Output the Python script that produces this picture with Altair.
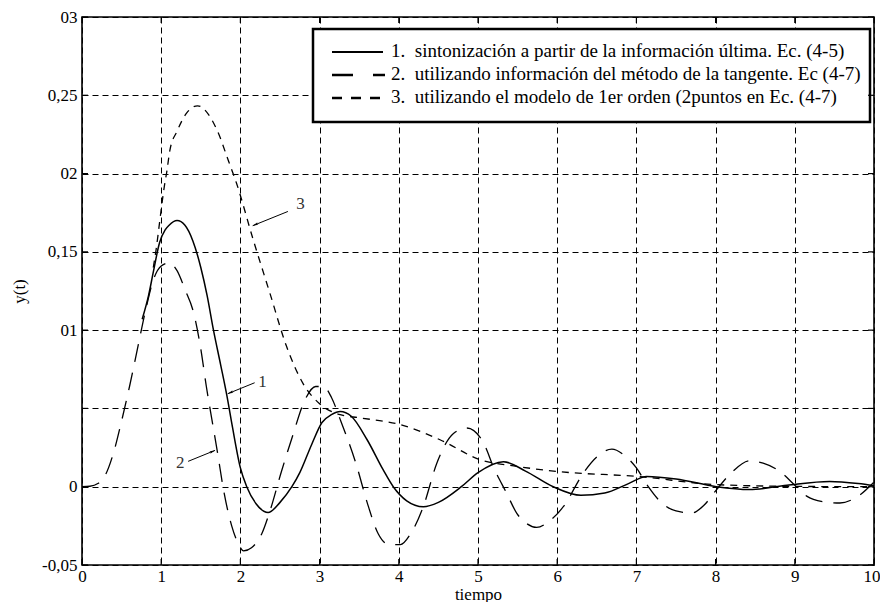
import altair as alt
import pandas as pd

# ---------------- data ----------------
t1 = [0.76, 0.84, 0.9, 0.98, 1.05, 1.1, 1.2, 1.3, 1.4, 1.5, 1.58, 1.66, 1.75, 1.83, 1.9, 2.0,
      2.08, 2.2, 2.35, 2.5, 2.65, 2.75, 2.9, 3.03, 3.15, 3.26, 3.4, 3.6, 3.8, 3.93, 4.1, 4.31,
      4.5, 4.79, 5.0, 5.32, 5.6, 5.95, 6.3, 6.6, 6.9, 7.13, 7.5, 8.01, 8.43, 8.9, 9.44, 9.8, 10.0]
y1 = [0.107, 0.122, 0.137, 0.156, 0.164, 0.167, 0.170, 0.167, 0.157, 0.140, 0.122, 0.100, 0.078,
      0.058, 0.038, 0.012, 0.0, -0.011, -0.0165, -0.010, 0.0, 0.009, 0.027, 0.041, 0.046, 0.048,
      0.045, 0.030, 0.011, 0.0, -0.009, -0.0128, -0.010, 0.0, 0.009, 0.016, 0.010, 0.0, -0.0055,
      -0.004, 0.002, 0.0066, 0.005, 0.0, -0.0018, 0.001, 0.0034, 0.002, 0.0006]

t2 = [0.0, 0.1, 0.2, 0.3, 0.4, 0.5, 0.6, 0.7, 0.8, 0.9, 1.0, 1.1, 1.2, 1.3, 1.41, 1.5, 1.57,
      1.65, 1.72, 1.78, 1.89, 1.97, 2.04, 2.14, 2.27, 2.37, 2.52, 2.65, 2.82, 2.95, 3.05, 3.15,
      3.26, 3.47, 3.6, 3.74, 3.88, 4.02, 4.15, 4.31, 4.48, 4.69, 4.86, 5.07, 5.2, 5.36, 5.49,
      5.6, 5.74, 5.9, 6.08, 6.33, 6.5, 6.69, 6.85, 7.0, 7.15, 7.3, 7.5, 7.7, 7.85, 8.01, 8.2,
      8.43, 8.6, 8.81, 9.0, 9.15, 9.35, 9.57, 9.8, 10.0]
y2 = [0.0, 0.0003, 0.002, 0.008, 0.022, 0.042, 0.064, 0.088, 0.112, 0.132, 0.141, 0.143, 0.138,
      0.126, 0.111, 0.088, 0.064, 0.040, 0.019, 0.0, -0.025, -0.036, -0.041, -0.039, -0.030,
      -0.016, 0.010, 0.031, 0.056, 0.064, 0.064, 0.057, 0.043, 0.013, -0.010, -0.030, -0.037,
      -0.037, -0.030, -0.0126, 0.015, 0.034, 0.0375, 0.028, 0.012, -0.004, -0.017, -0.023,
      -0.026, -0.022, -0.0126, 0.0087, 0.019, 0.024, 0.020, 0.012, 0.0, -0.0094, -0.0155,
      -0.0168, -0.012, -0.002, 0.009, 0.0166, 0.015, 0.0098, 0.001, -0.006, -0.0095, -0.0104,
      -0.006, 0.003]

t3 = [0.9, 0.94, 0.98, 1.01, 1.04, 1.07, 1.11, 1.2, 1.32, 1.46, 1.62, 1.72, 1.85, 1.95, 2.16,
      2.37, 2.58, 2.79, 3.0, 3.26, 3.51, 4.02, 4.52, 5.03, 5.49, 5.99, 7.05, 8.01, 9.02, 10.0]
y3 = [0.140, 0.153, 0.169, 0.181, 0.192, 0.201, 0.215, 0.227, 0.2386, 0.2433, 0.236, 0.226,
      0.208, 0.194, 0.158, 0.124, 0.090, 0.066, 0.053, 0.046, 0.044, 0.0396, 0.030, 0.0172,
      0.013, 0.0098, 0.0064, 0.0013, 0.0002, 0.0]

legend_labels = [
    "1.\u00a0\u00a0sintonización a partir de la información última. Ec. (4-5)",
    "2.\u00a0\u00a0utilizando información del método de la tangente. Ec (4-7)",
    "3.\u00a0\u00a0utilizando el modelo de 1er orden (2puntos en Ec. (4-7)",
]

# annotation arrows: label, text anchor, arrow tail, arrow head (data units)
ann_labels = ["3", "1", "2"]
ann_text_t = [2.76, 2.28, 1.24]
ann_text_v = [0.1805, 0.0668, 0.0150]
ann_tail_t = [2.60, 2.18, 1.34]
ann_tail_v = [0.1758, 0.0664, 0.0162]
ann_head_t = [2.155, 1.84, 1.68]
ann_head_v = [0.1667, 0.0594, 0.0232]
ann_angle = [248, 248, 68]

x_ticks = [0, 1, 2, 3, 4, 5, 6, 7, 8, 9, 10]
y_ticks = [-0.05, 0.0, 0.05, 0.1, 0.15, 0.2, 0.25, 0.3]
y_tick_labels = ["-0,05", "0", "", "01", "0,15", "02", "0,25", "03"]

# ---------------- chart ----------------
FONT = "Liberation Serif"
W, H = 792, 548

y_expr = " : ".join(
    f"abs(datum.value - ({v})) < 1e-6 ? '{lab}'" for v, lab in zip(y_ticks, y_tick_labels)
) + " : ''"

X = alt.X("t:Q", scale=alt.Scale(domain=[0, 10], nice=False, zero=False),
          axis=alt.Axis(values=x_ticks, grid=True, gridDash=[6, 4], gridColor="black",
                        gridWidth=1, gridOpacity=1, tickSize=0, domain=False,
                        labelFont=FONT, labelFontSize=17, labelColor="black",
                        labelPadding=3, labelFlush=False, format="d",
                        labelAlign={"condition": {"test": "datum.value == 10", "value": "right"},
                                    "value": "center"},
                        labelOffset={"condition": {"test": "datum.value == 10", "value": 6},
                                     "value": 0},
                        title="tiempo", titleFont=FONT, titleFontSize=17,
                        titleFontWeight="normal", titleColor="black",
                        titleY=29, titleBaseline="middle"))
Y = alt.Y("v:Q", scale=alt.Scale(domain=[-0.05, 0.3], nice=False, zero=False),
          axis=alt.Axis(values=y_ticks, grid=True, gridDash=[6, 4], gridColor="black",
                        gridWidth=1, gridOpacity=1, tickSize=0, domain=False,
                        labelFont=FONT, labelFontSize=17, labelColor="black",
                        labelPadding=5, labelExpr=y_expr, labelFlush=False,
                        title="y(t)", titleFont=FONT, titleFontSize=17,
                        titleFontWeight="normal", titleColor="black",
                        titleX=-63, titleY=274, titleAngle=-90,
                        titleAlign="center", titleBaseline="middle"))

d1 = pd.DataFrame({"t": t1, "v": y1})
d2 = pd.DataFrame({"t": t2, "v": y2})
d3 = pd.DataFrame({"t": t3, "v": y3})

c1 = alt.Chart(d1).mark_line(color="black", strokeWidth=1.5, interpolate="monotone").encode(x=X, y=Y)
c2 = alt.Chart(d2).mark_line(color="black", strokeWidth=1.3, strokeDash=[18, 11],
                             interpolate="monotone").encode(x=X, y=Y)
c3 = alt.Chart(d3).mark_line(color="black", strokeWidth=1.3, strokeDash=[7, 6],
                             interpolate="monotone").encode(x=X, y=Y)

one = alt.Data(values=[{"a": 1}])

# legend box
lg_box = alt.Chart(one).mark_rect(fill="white", stroke="black", strokeWidth=2.5).encode(
    x=alt.value(231), x2=alt.value(788), y=alt.value(12), y2=alt.value(105))
lg_l1 = alt.Chart(one).mark_rule(color="black", strokeWidth=2).encode(
    x=alt.value(250), x2=alt.value(301), y=alt.value(35))
lg_l2 = alt.Chart(one).mark_rule(color="black", strokeWidth=2.5, strokeDash=[21, 20]).encode(
    x=alt.value(250), x2=alt.value(303), y=alt.value(58))
lg_l3 = alt.Chart(one).mark_rule(color="black", strokeWidth=2.5, strokeDash=[10, 9]).encode(
    x=alt.value(250), x2=alt.value(302), y=alt.value(81))
lg_texts = []
for i, lab in enumerate(legend_labels):
    lg_texts.append(alt.Chart(one).mark_text(
        text=lab, font=FONT, fontSize=19, align="left", baseline="middle", color="black"
    ).encode(x=alt.value(309), y=alt.value([34, 57, 80][i])))

# annotations
ann = pd.DataFrame({"label": ann_labels, "tt": ann_text_t, "tv": ann_text_v,
                    "t": ann_tail_t, "v": ann_tail_v, "t2": ann_head_t, "v2": ann_head_v,
                    "ang": ann_angle})
ann_rule = alt.Chart(ann).mark_rule(color="black", strokeWidth=1).encode(
    x=X, y=Y, x2="t2:Q", y2="v2:Q")
ann_head = alt.Chart(ann).mark_point(
    shape="M0,0L0.45,1.9L0,1.45L-0.45,1.9Z", filled=True, color="black", size=36, opacity=1
).encode(x=alt.X("t2:Q"), y=alt.Y("v2:Q"), angle=alt.Angle("ang:Q", scale=None))
ann_text = alt.Chart(ann).mark_text(font=FONT, fontSize=17, color="#333333",
                                     align="center", baseline="middle").encode(
    x=alt.X("tt:Q"), y=alt.Y("tv:Q"), text="label:N")

# inward ticks on all four sides
xt = pd.DataFrame({"t": x_ticks})
yt = pd.DataFrame({"v": y_ticks})
tk_b = alt.Chart(xt).mark_rule(color="black", strokeWidth=1.2).encode(
    x=X, y=alt.value(H), y2=alt.value(H - 6))
tk_t = alt.Chart(xt).mark_rule(color="black", strokeWidth=1.2).encode(
    x=X, y=alt.value(0), y2=alt.value(6))
tk_l = alt.Chart(yt).mark_rule(color="black", strokeWidth=1.2).encode(
    y=Y, x=alt.value(0), x2=alt.value(6))
tk_r = alt.Chart(yt).mark_rule(color="black", strokeWidth=1.2).encode(
    y=Y, x=alt.value(W), x2=alt.value(W - 6))

chart = alt.layer(
    c3, c2, c1, lg_box, lg_l1, lg_l2, lg_l3, *lg_texts,
    ann_rule, ann_head, ann_text, tk_b, tk_t, tk_l, tk_r
).properties(
    width=W, height=H,
    autosize=alt.AutoSizeParams(type="none"),
    padding={"left": 74, "top": 9, "right": 6, "bottom": 37},
    background="white",
).configure_view(stroke="black", strokeWidth=1.6)

chart.save("out.html", embed_options={"renderer": "svg", "actions": False})
